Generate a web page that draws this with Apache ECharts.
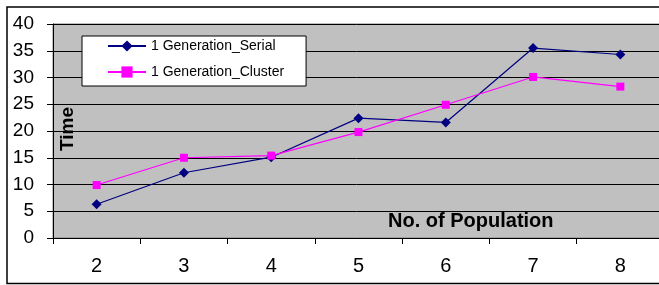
<!DOCTYPE html>
<html>
<head>
<meta charset="utf-8">
<script src="https://cdn.jsdelivr.net/npm/echarts@6/dist/echarts.min.js"></script>
<style>
  html, body { margin: 0; padding: 0; background: #fff; }
  #main { width: 659px; height: 285px; }
</style>
</head>
<body>
<div id="main"></div>
<script>
var categories = ['2', '3', '4', '5', '6', '7', '8'];
var serialTimes = [6.3, 12.2, 15.1, 22.4, 21.6, 35.5, 34.3];
var clusterTimes = [9.9, 15.0, 15.4, 19.8, 24.9, 30.1, 28.3];
var seriesNames = ['1 Generation_Serial', '1 Generation_Cluster'];

var chart = echarts.init(document.getElementById('main'));
var fontFam = 'Arial, "Liberation Sans", sans-serif';

var option = {
    animation: false,
    backgroundColor: '#fff',
    textStyle: { fontFamily: fontFam },
    grid: {
        left: 53, top: 24, right: -5, bottom: 47,
        outerBoundsMode: 'none',
        containLabel: false,
        show: true,
        backgroundColor: '#c0c0c0',
        borderColor: '#808080',
        borderWidth: 1
    },
    legend: {
        left: 82, top: 36,
        orient: 'vertical',
        backgroundColor: '#fff',
        borderColor: '#000',
        borderWidth: 1,
        borderRadius: 0,
        padding: [3, 22, 7, 25],
        itemWidth: 38,
        itemHeight: 14,
        itemGap: 12,
        textStyle: { fontSize: 14, color: '#000', fontFamily: fontFam },
        data: seriesNames
    },
    xAxis: {
        type: 'category',
        data: categories,
        boundaryGap: true,
        axisLine: { lineStyle: { color: '#000', width: 1 } },
        axisTick: { show: true, length: 6, lineStyle: { color: '#000' } },
        axisLabel: { fontSize: 20, color: '#000', margin: 18 },
        splitLine: { show: false }
    },
    yAxis: {
        type: 'value',
        min: 0, max: 40, interval: 5,
        axisLine: { show: true, lineStyle: { color: '#000', width: 1 } },
        axisTick: { show: true, length: 6, lineStyle: { color: '#000' } },
        axisLabel: { fontSize: 19, color: '#000', margin: 19 },
        splitLine: { show: true, lineStyle: { color: '#000', width: 1 } }
    },
    graphic: [
        {
            type: 'rect',
            shape: { x: 7, y: 7, width: 670, height: 276.5 },
            style: { fill: 'none', stroke: '#000', lineWidth: 1.5 },
            z: -1
        },
        {
            // axis titles sit inside the plot area
            type: 'text',
            x: 68, y: 129,
            rotation: Math.PI / 2,
            style: {
                text: 'Time',
                font: 'bold 19px ' + fontFam,
                fill: '#000',
                align: 'center',
                verticalAlign: 'middle'
            },
            z: 10
        },
        {
            type: 'text',
            left: 388, top: 211,
            style: {
                text: 'No. of Population',
                font: 'bold 20px ' + fontFam,
                fill: '#000'
            },
            z: 10
        }
    ],
    series: [
        {
            name: seriesNames[0],
            type: 'line',
            data: serialTimes,
            symbol: 'diamond',
            symbolSize: 10,
            showAllSymbol: true,
            lineStyle: { color: '#000080', width: 1.2 },
            itemStyle: { color: '#000080' }
        },
        {
            name: seriesNames[1],
            type: 'line',
            data: clusterTimes,
            symbol: 'rect',
            symbolSize: 8,
            showAllSymbol: true,
            lineStyle: { color: '#ff00ff', width: 1.2 },
            itemStyle: { color: '#ff00ff' }
        }
    ]
};

chart.setOption(option);
window.addEventListener('resize', function () { chart.resize(); });
</script>
</body>
</html>
